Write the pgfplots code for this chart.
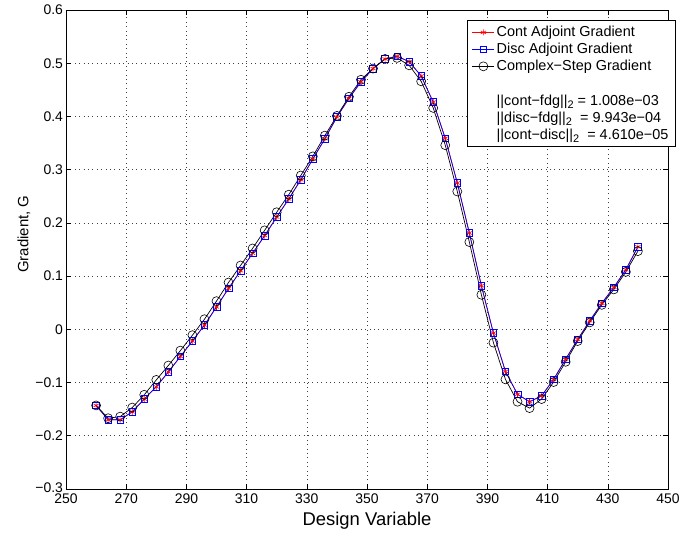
\documentclass[border=0pt]{standalone}
\usepackage{fontspec}
\setmainfont{Liberation Sans}
\usepackage{pgfplots}
\pgfplotsset{compat=1.18}
\newcommand\sub[1]{\raisebox{-0.45ex}{\fontsize{11}{11}\selectfont #1}}
\begin{document}
\begin{tikzpicture}
\path[use as bounding box] (-66bp,-48bp) rectangle (632bp,489bp);
\begin{axis}[
  at={(0bp,0bp)}, anchor=south west,
  scale only axis, width=602bp, height=479bp,
  xmin=250, xmax=450, ymin=-0.3, ymax=0.6,
  xtick={250,270,290,310,330,350,370,390,410,430,450},
  ytick={-0.3,-0.2,-0.1,0,0.1,0.2,0.3,0.4,0.5,0.6},
  yticklabels={\raisebox{2.5bp}{−0.3},−0.2,−0.1,0,0.1,0.2,0.3,0.4,0.5,0.6},
  /pgf/number format/assume math mode=true,
  tick label style={font=\fontsize{14}{16}\selectfont},
  xticklabel style={yshift=-1.5bp},
  yticklabel style={xshift=0.5bp},
  tick align=inside, major tick length=5bp,
  tick style={black, line width=0.6bp},
  axis line style={black, line width=0.8bp},
  grid=major,
  major grid style={black!75, line width=0.6bp, dash pattern=on 0.8bp off 3.6bp},
  xlabel={Design Variable},
  ylabel={Gradient, G},
  xlabel style={font=\fontsize{18.5}{20}\selectfont, at={(axis description cs:0.5,-0.0772)}, anchor=base},
  ylabel style={font=\fontsize{15}{17}\selectfont, at={(axis description cs:-0.0698,0.532)}, anchor=center},
  legend cell align=left,
  legend style={at={(1.013,0.979)}, anchor=north east, font=\fontsize{14.5}{16}\selectfont,
    draw=black, line width=0.8bp, row sep=1bp, inner xsep=5bp, inner ysep=4bp},
  legend image code/.code={\draw[mark repeat=2,mark phase=2,#1] plot coordinates {(0bp,0bp)(11bp,0bp)(22bp,0bp)};},
  legend image post style={line width=0.7bp},
]
\addplot[red, line width=0.7bp, mark=asterisk, mark size=3bp, mark options={line width=0.6bp}] coordinates {
(260,-0.143)(264,-0.170)(268,-0.170)(272,-0.155)(276,-0.131)(280,-0.108)(284,-0.080)(288,-0.051)
(292,-0.022)(296,0.008)(300,0.042)(304,0.077)(308,0.110)(312,0.143)(316,0.176)(320,0.211)
(324,0.245)(328,0.281)(332,0.320)(336,0.358)(340,0.399)(344,0.434)(348,0.465)(352,0.490)
(356,0.508)(360,0.513)(364,0.503)(368,0.476)(372,0.427)(376,0.359)(380,0.275)(384,0.181)
(388,0.082)(392,-0.007)(396,-0.079)(400,-0.122)(404,-0.136)(408,-0.125)(412,-0.094)(416,-0.056)
(420,-0.019)(424,0.016)(428,0.049)(432,0.079)(436,0.112)(440,0.155)};
\addlegendentry{Cont Adjoint Gradient}
\addplot[blue, line width=0.7bp, mark=square, mark size=3.3bp, mark options={line width=0.6bp}] coordinates {
(260,-0.143)(264,-0.170)(268,-0.170)(272,-0.155)(276,-0.131)(280,-0.108)(284,-0.080)(288,-0.051)
(292,-0.022)(296,0.008)(300,0.042)(304,0.077)(308,0.110)(312,0.143)(316,0.176)(320,0.211)
(324,0.245)(328,0.281)(332,0.320)(336,0.358)(340,0.399)(344,0.434)(348,0.465)(352,0.490)
(356,0.508)(360,0.513)(364,0.503)(368,0.476)(372,0.427)(376,0.359)(380,0.275)(384,0.181)
(388,0.082)(392,-0.007)(396,-0.079)(400,-0.122)(404,-0.136)(408,-0.125)(412,-0.094)(416,-0.056)
(420,-0.019)(424,0.016)(428,0.049)(432,0.079)(436,0.112)(440,0.155)};
\addlegendentry{Disc Adjoint Gradient}
\addplot[black, line width=0.7bp, mark=o, mark size=4.5bp, mark options={line width=0.6bp}] coordinates {
(260,-0.143)(264,-0.167)(268,-0.164)(272,-0.147)(276,-0.123)(280,-0.095)(284,-0.068)(288,-0.040)
(292,-0.011)(296,0.019)(300,0.053)(304,0.088)(308,0.120)(312,0.152)(316,0.186)(320,0.220)
(324,0.253)(328,0.289)(332,0.325)(336,0.364)(340,0.401)(344,0.437)(348,0.469)(352,0.490)
(356,0.508)(360,0.510)(364,0.496)(368,0.466)(372,0.416)(376,0.346)(380,0.259)(384,0.164)
(388,0.065)(392,-0.025)(396,-0.094)(400,-0.136)(404,-0.148)(408,-0.131)(412,-0.099)(416,-0.061)
(420,-0.022)(424,0.013)(428,0.046)(432,0.075)(436,0.108)(440,0.147)};
\addlegendentry{Complex−Step Gradient}
\addlegendimage{empty legend}
\addlegendentry{\strut}
\addlegendimage{empty legend}
\addlegendentry{||cont−fdg||\sub{2} = 1.008e−03}
\addlegendimage{empty legend}
\addlegendentry{||disc−fdg||\sub{2}~ = 9.943e−04}
\addlegendimage{empty legend}
\addlegendentry{||cont−disc||\sub{2}~ = 4.610e−05}
\end{axis}
\end{tikzpicture}
\end{document}
